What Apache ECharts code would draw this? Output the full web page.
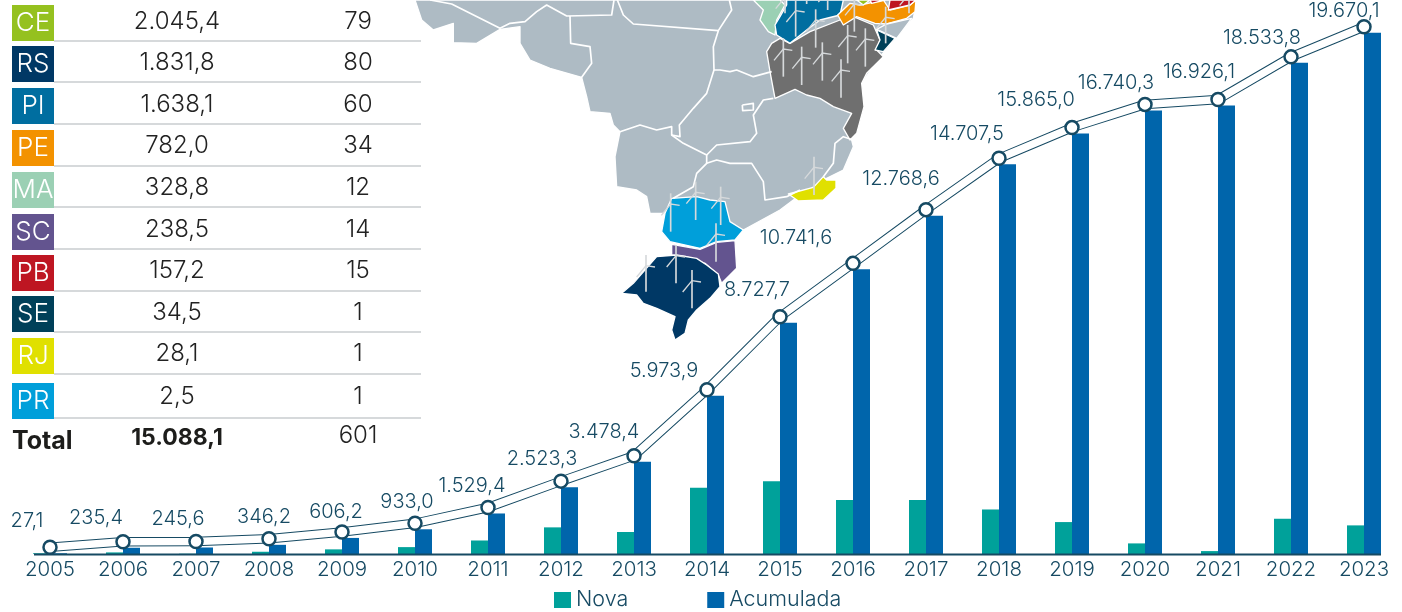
<!DOCTYPE html>
<html>
<head>
<meta charset="utf-8">
<style>
	html, body { margin: 0; padding: 0; background: #fff; }
	#chart { width: 1402px; height: 612px; }
</style>
<script src="https://cdn.jsdelivr.net/npm/echarts@6/dist/echarts.min.js"></script>
</head>
<body>
<div id="chart"></div>
<script>
// chart data
const categories = ['2005','2006','2007','2008','2009','2010','2011','2012','2013','2014','2015','2016','2017','2018','2019','2020','2021','2022','2023'];
const acumulada = [27.1,235.4,245.6,346.2,606.2,933.0,1529.4,2523.3,3478.4,5973.9,8727.7,10741.6,12768.6,14707.5,15865.0,16740.3,16926.1,18533.8,19670.1];
const nova = [27,60,10,85,175,260,510,1005,830,2500,2750,2040,2040,1680,1205,400,110,1330,1080];

// table data
const tableStates = ['CE','RS','PI','PE','MA','SC','PB','SE','RJ','PR'];
const tableCapacity = ['2.045,4','1.831,8','1.638,1','782,0','328,8','238,5','157,2','34,5','28,1','2,5'];
const tableCount = ['79','80','60','34','12','14','15','1','1','1'];
const tableColors = ['#95c11f','#003865','#006ea0','#f39200','#9bd0b4','#63548f','#be1622','#004059','#e0e000','#009fda'];

const inkColor = '#164a63';
const fontName = 'Inter';

// layout of the table, px
const rowTop = [5,46,88,130,172,214,255,296,338,383];
const rowRule = [41,82,124,166,207,249,291,332,374,418];
const rowText = [22,63,105,146,188,230,271,313,354,397];

// label position around each point, px
const labelShift = [[-23,-26],[-27,-24],[-18,-23],[-5,-22],[-6,-20],[-8,-21],[-16,-21],[-19,-22],[-30,-24],[-43,-19],[-23,-27],[-57,-25],[-25,-31],[-32,-24],[-36,-28],[-29,-21],[-19,-27],[-29,-19],[-20,-16]];

// map shapes, in units of a third of a pixel, drawn by hand (background picture, not data)
const mapShapes = [
	{ fill: '#aebbc4', points: [[15,0],[35,60],[70,90],[130,70],[130,128],[200,130],[270,88],[330,80],[330,130],[360,180],[420,205],[515,232],[530,290],[540,335],[600,340],[610,375],[630,395],[615,470],[620,560],[680,570],[710,590],[720,640],[760,640],[800,600],[1000,690],[1110,630],[1150,600],[1250,535],[1300,510],[1330,440],[1325,420],[1340,400],[1362,320],[1355,250],[1410,170],[1510,55],[1520,0]] },
	{ fill: '#6f6f6f', points: [[1085,130],[1110,115],[1140,130],[1200,95],[1290,60],[1330,50],[1390,75],[1410,120],[1400,150],[1420,170],[1370,220],[1355,250],[1362,320],[1340,400],[1320,420],[1300,385],[1325,340],[1270,320],[1230,295],[1190,285],[1155,268],[1095,295],[1080,215],[1070,155]] },
	{ fill: '#9bd0b4', points: [[1030,0],[1110,0],[1125,15],[1100,60],[1095,105],[1075,95],[1050,60],[1060,30]] },
	{ fill: '#006ea0', points: [[1110,50],[1130,15],[1130,0],[1300,0],[1290,45],[1230,60],[1190,90],[1140,130],[1100,105],[1095,75]] },
	{ fill: '#f39200', points: [[1283,45],[1320,10],[1350,15],[1420,0],[1440,30],[1500,15],[1518,0],[1515,35],[1490,55],[1430,72],[1395,70],[1340,50],[1300,75]] },
	{ fill: '#95c11f', points: [[1340,0],[1380,0],[1360,15]] },
	{ fill: '#be1622', points: [[1385,10],[1425,0],[1380,0]] },
	{ fill: '#be1622', points: [[1435,30],[1440,0],[1518,0],[1500,15]] },
	{ fill: '#aebbc4', points: [[1430,72],[1505,55],[1460,115],[1400,88]] },
	{ fill: '#004059', points: [[1400,90],[1455,115],[1420,155],[1395,150],[1410,120]] },
	{ fill: '#e0e000', points: [[1135,582],[1210,562],[1240,530],[1250,540],[1278,540],[1278,565],[1240,600],[1165,603]] },
	{ fill: '#009fda', points: [[785,595],[860,590],[900,600],[945,605],[960,665],[1000,690],[975,720],[920,725],[870,745],[780,725],[755,695],[765,640]] },
	{ fill: '#63548f', points: [[785,733],[870,748],[920,727],[975,722],[980,805],[935,850],[925,825],[885,790],[830,770],[785,765]] },
	{ fill: '#003865', points: [[635,880],[670,850],[740,770],[800,765],[860,775],[890,795],[925,822],[930,860],[900,895],[860,930],[835,960],[825,1000],[795,1020],[785,990],[795,950],[740,925],[700,910],[680,885]] }
];
const mapBorders = [
	[[60,0],[125,12],[270,85],[300,70],[345,65],[380,35],[410,15],[470,48],[605,45],[612,0]],
	[[480,48],[482,130],[540,140],[545,190],[515,232]],
	[[622,0],[640,45],[670,72],[925,92],[965,30],[958,0]],
	[[925,92],[910,140],[912,210],[890,280],[850,325],[808,375],[810,410],[785,405]],
	[[630,395],[690,375],[740,390],[785,380],[785,405],[820,430],[890,465],[890,490],[860,520],[850,560],[790,595]],
	[[890,465],[920,435],[1020,425],[1040,400],[1030,345],[1060,300],[1090,295]],
	[[912,210],[930,210],[960,215],[980,210],[1030,230],[1085,215]],
	[[890,490],[920,480],[960,490],[1025,490],[1060,545],[1065,600],[1130,590],[1170,570]],
	[[1240,530],[1270,490],[1275,430],[1300,410],[1330,420]],
	[[997,315],[1030,310],[1030,330],[998,332],[997,315]]
];
const turbines = [[782,580,695],[857,545,660],[932,560,675],[918,670,785],[708,765,875],[798,735,850],[846,810,925],[1212,470,585],[1120,115,230],[1175,140,255],[1237,127,242],[1293,178,293],[1313,75,190],[1366,85,200],[1157,0,110],[1217,28,143],[1125,-40,40],[1190,-70,12],[1253,-60,30],[1333,-20,95],[1427,20,130],[1497,-50,40]];

function cellText(text, x, y, fill, weight, size, align) {
	return {
		type: 'text', silent: true,
		style: { text, x, y, fill, font: `${weight} ${size}px ${fontName}`, textAlign: align || 'center', textVerticalAlign: 'middle' }
	};
}

function tableGraphics() {
	const items = [];
	tableStates.forEach((state, i) => {
		items.push({ type: 'line', silent: true, shape: { x1: 54, y1: rowRule[i], x2: 421, y2: rowRule[i] }, style: { stroke: '#c9cdcf', lineWidth: 1.5 } });
		items.push({ type: 'rect', silent: true, shape: { x: 12, y: rowTop[i], width: 42, height: 36 }, style: { fill: tableColors[i] } });
		items.push(cellText(state, 33, rowTop[i] + 18, '#fff', 300, 26));
		items.push(cellText(tableCapacity[i], 177, rowText[i], '#222', 300, 24));
		items.push(cellText(tableCount[i], 358, rowText[i], '#222', 300, 24));
	});
	items.push(cellText('Total', 12, 441, '#1d1d1b', 700, 25, 'left'));
	items.push(cellText('15.088,1', 177, 438, '#1d1d1b', 700, 23));
	items.push(cellText('601', 358, 436, '#222', 300, 24));
	return items;
}

function mapGraphics() {
	const children = [];
	mapShapes.forEach(s => {
		children.push({ type: 'polygon', silent: true, shape: { points: s.points }, style: { fill: s.fill, stroke: '#fff', lineWidth: 4, lineJoin: 'round' } });
	});
	mapBorders.forEach(points => {
		children.push({ type: 'polyline', silent: true, shape: { points }, style: { fill: null, stroke: '#fff', lineWidth: 5, lineJoin: 'round' } });
	});
	turbines.forEach(([x, top, base]) => {
		const hubY = top + 32;
		children.push({ type: 'line', silent: true, shape: { x1: x, y1: top, x2: x, y2: base }, style: { stroke: '#d6d9db', lineWidth: 5 } });
		children.push({ type: 'polyline', silent: true, shape: { points: [[x - 28, hubY + 34], [x, hubY], [x + 27, hubY + 4]] }, style: { fill: null, stroke: '#d6d9db', lineWidth: 4 } });
	});
	return { type: 'group', x: 410, y: 0, scaleX: 1 / 3, scaleY: 1 / 3, silent: true, children };
}

const formatValue = v => v.toLocaleString('pt-BR', { minimumFractionDigits: 1, maximumFractionDigits: 1 });

const myChart = echarts.init(document.getElementById('chart'), null, { renderer: 'canvas' });

const yMax = 20906;
const lineLift = 226; // the double line sits a few px above the bars

myChart.setOption({
	animation: false,
	backgroundColor: '#fff',
	textStyle: { fontFamily: fontName },
	legend: {
		left: 549, top: 584,
		itemWidth: 17, itemHeight: 16, itemGap: 79,
		icon: 'rect',
		data: ['Nova', 'Acumulada'],
		textStyle: { color: inkColor, fontSize: 21.5, fontFamily: fontName, fontWeight: 300 }
	},
	grid: { left: 13.5, width: 1387, top: 0, bottom: 58 },
	xAxis: {
		type: 'category',
		data: categories,
		axisLine: { show: false },
		axisTick: { show: false },
		axisLabel: { color: inkColor, fontSize: 20.5, fontWeight: 300, margin: 5, interval: 0, fontFamily: fontName }
	},
	yAxis: [
		{ type: 'value', min: 0, max: yMax, show: false, splitLine: { show: false } },
		{ type: 'value', min: -lineLift, max: yMax - lineLift, show: false, splitLine: { show: false } }
	],
	graphic: [
		{ type: 'line', silent: true, shape: { x1: 34, y1: 554.5, x2: 1381, y2: 554.5 }, style: { stroke: inkColor, lineWidth: 2 }, z: 3 },
		mapGraphics()
	].concat(tableGraphics()),
	series: [
		{ name: 'Nova', type: 'bar', data: nova, barWidth: 17, barGap: 0, itemStyle: { color: '#00a19a' } },
		{ name: 'Acumulada', type: 'bar', data: acumulada, barWidth: 17, barGap: 0, itemStyle: { color: '#0065ab' } },
		{
			name: 'outline', type: 'line', yAxisIndex: 1, data: acumulada, z: 4,
			symbol: 'none', lineStyle: { color: inkColor, width: 9.5 }
		},
		{
			name: 'linha', type: 'line', yAxisIndex: 1, z: 5,
			data: acumulada.map((v, i) => ({
				value: v,
				label: { offset: labelShift[i] }
			})),
			symbol: 'circle', symbolSize: 13, showAllSymbol: true,
			lineStyle: { color: '#fff', width: 7.5 },
			itemStyle: { color: '#fff', borderColor: inkColor, borderWidth: 2.5 },
			label: {
				show: true, position: 'inside', color: inkColor, fontSize: 20, fontWeight: 300, fontFamily: fontName,
				formatter: p => formatValue(acumulada[p.dataIndex])
			}
		}
	]
});
</script>
</body>
</html>
